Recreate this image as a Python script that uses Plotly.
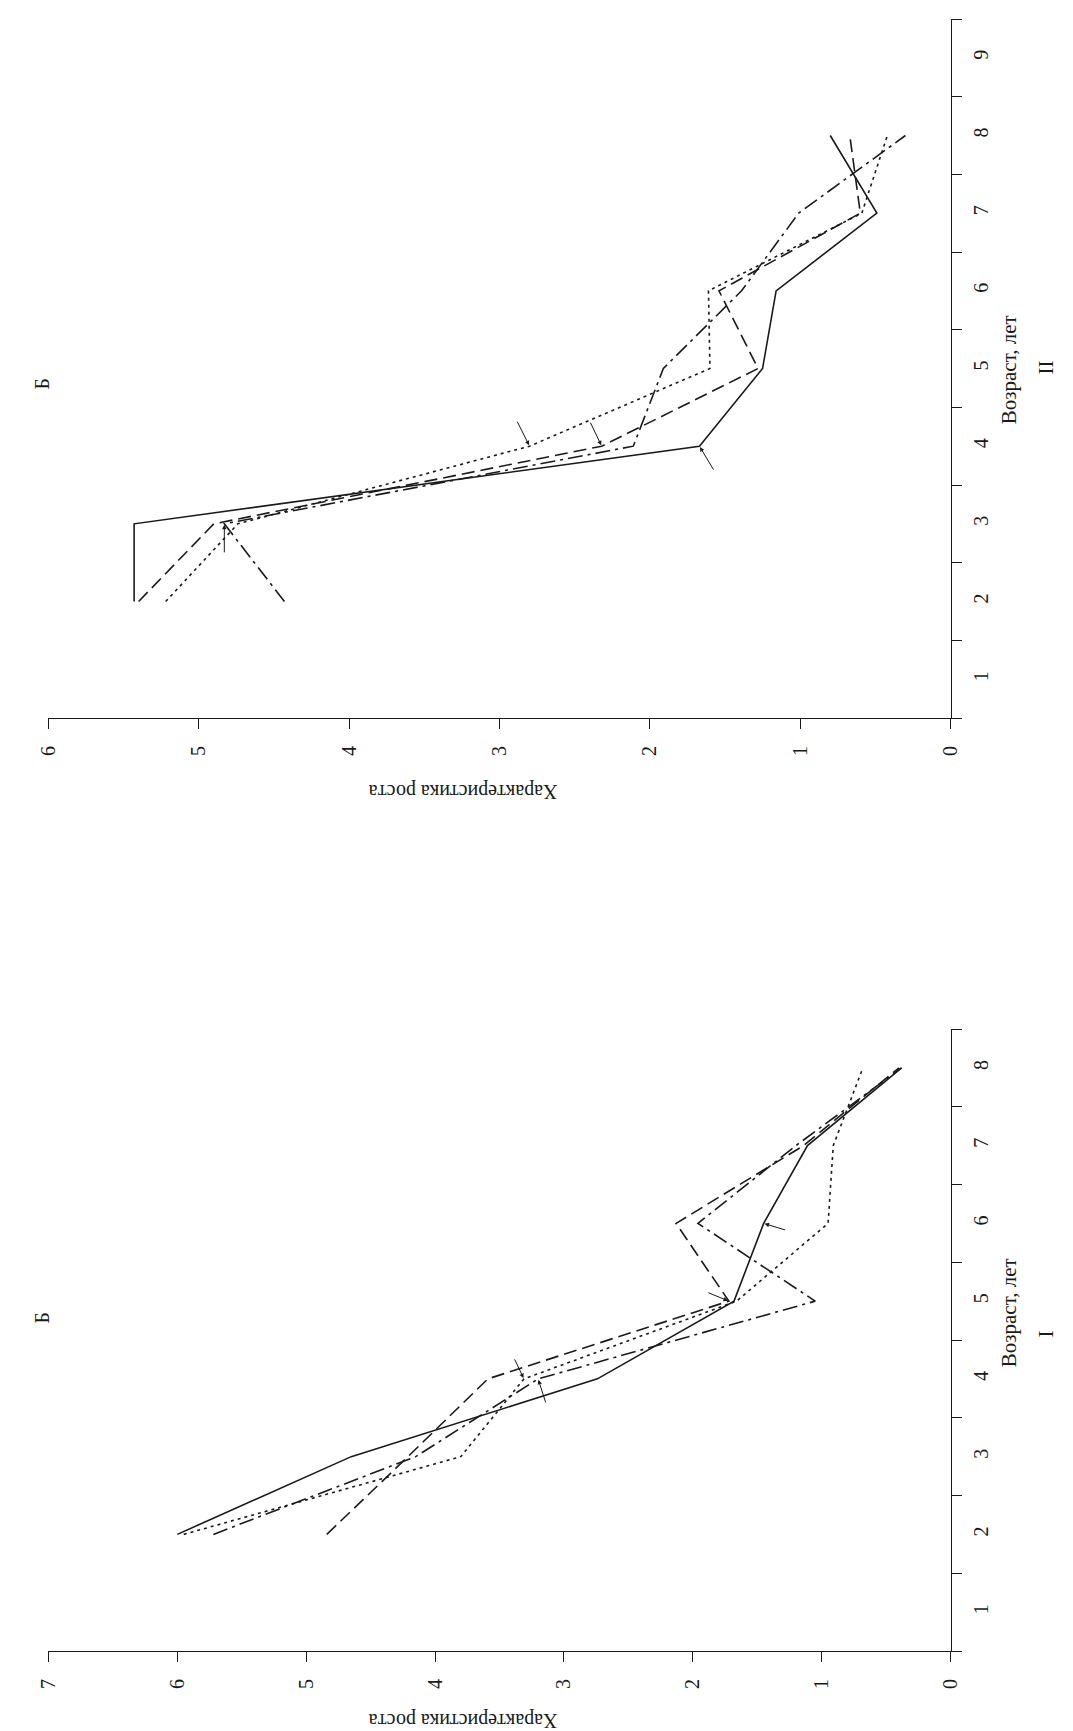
import plotly.graph_objects as go

W, H = 1073, 1731

# ---- data ----
ages = [2, 3, 4, 5, 6, 7, 8]

# Panel II (top)
II_solid   = [5.43, 5.43, 1.67, 1.25, 1.16, 0.49, 0.80]
II_dashed  = [5.40, 4.90, 2.32, 1.28, 1.54, 0.60, 0.67]
II_dotted  = [5.22, 4.74, 2.80, 1.60, 1.61, 0.59, 0.42]
II_dashdot = [4.43, 4.83, 2.11, 1.91, 1.39, 1.01, 0.30]

# Panel I (bottom)
I_solid   = [6.00, 4.65, 2.74, 1.68, 1.45, 1.11, 0.38]
I_dashed  = [4.84, 4.21, 3.59, 1.72, 2.13, 1.14, 0.40]
I_dotted  = [5.95, 3.80, 3.31, 1.66, 0.95, 0.91, 0.68]
I_dashdot = [5.72, 4.15, 3.20, 1.05, 1.96, 1.20, 0.38]

II_age_ticks = [1, 2, 3, 4, 5, 6, 7, 8, 9]
I_age_ticks = [1, 2, 3, 4, 5, 6, 7, 8]
II_val_ticks = [0, 1, 2, 3, 4, 5, 6]
I_val_ticks = [0, 1, 2, 3, 4, 5, 6, 7]

x_title = "Характеристика роста"
y_title = "Возраст, лет"
panel_letter = "Б"

FONT = "Liberation Serif"
INK = "#1a1a1a"

styles = {
    "solid": dict(dash="solid"),
    "dashed": dict(dash="13px,6px"),
    "dotted": dict(dash="3px,4px"),
    "dashdot": dict(dash="15px,5px,3px,5px"),
}

fig = go.Figure()

def add_panel(series, xa, ya):
    for name, vals in series:
        fig.add_trace(go.Scatter(
            x=vals, y=ages, mode="lines", xaxis=xa, yaxis=ya,
            line=dict(color=INK, width=1.6, **styles[name]),
            showlegend=False, hoverinfo="skip"))

add_panel([("solid", II_solid), ("dashed", II_dashed),
           ("dotted", II_dotted), ("dashdot", II_dashdot)], "x", "y")
add_panel([("solid", I_solid), ("dashed", I_dashed),
           ("dotted", I_dotted), ("dashdot", I_dashdot)], "x2", "y2")

xdom = [29 / W, 950 / W]
top_dom = [1 - 710 / H, 1 - 11 / H]
bot_dom = [1 - 1643 / H, 1 - 1021 / H]

def val_axis(rng, ticks, anchor, dom):
    return dict(domain=dom, anchor=anchor, range=rng, tickmode="array",
                tickvals=ticks, ticktext=[str(t) for t in ticks],
                ticks="outside", ticklen=10, tickwidth=1, tickcolor=INK,
                showline=True, linecolor=INK, linewidth=1.2,
                showgrid=False, zeroline=False, tickangle=-90,
                ticklabelstandoff=9,
                tickfont=dict(family=FONT, size=20, color=INK))

def age_axis(rng, ticks, anchor, dom):
    return dict(domain=dom, anchor=anchor, side="right", range=rng,
                tickmode="array", tickvals=ticks,
                ticktext=[str(t) for t in ticks], ticks="",
                showline=True, linecolor=INK, linewidth=1.2,
                showgrid=False, zeroline=False, tickangle=-90,
                ticklabelstandoff=12,
                minor=dict(tickmode="linear", tick0=0.5, dtick=1,
                           ticks="outside", ticklen=10, tickwidth=1,
                           tickcolor=INK, showgrid=False),
                tickfont=dict(family=FONT, size=20, color=INK))

fig.update_layout(
    width=W, height=H,
    margin=dict(l=0, r=0, t=0, b=0),
    paper_bgcolor="white", plot_bgcolor="white",
    xaxis=val_axis([6, 0], II_val_ticks, "y", xdom),
    yaxis=age_axis([0.5, 9.5], II_age_ticks, "x", top_dom),
    xaxis2=val_axis([7, 0], I_val_ticks, "y2", xdom),
    yaxis2=age_axis([0.5, 8.5], I_age_ticks, "x2", bot_dom),
)

def txt(text, px, py, angle, size=21):
    fig.add_annotation(text=text, x=px / W, y=1 - py / H, xref="paper",
                       yref="paper", showarrow=False, textangle=angle,
                       xanchor="center", yanchor="middle",
                       font=dict(family=FONT, size=size, color=INK))

# top panel texts
txt(panel_letter, 22, 376, -90, 20)
txt(y_title, 1010, 362, -90, 21)
txt("II", 1047, 360, -90, 21)
txt(x_title, 452, 783, 180, 20)
# bottom panel texts
txt(panel_letter, 22, 1310, -90, 20)
txt(y_title, 1010, 1305, -90, 21)
txt("I", 1047, 1326, -90, 21)
txt(x_title, 452, 1713, 180, 20)

def arrow(xv, yv, ax, ay, xr, yr):
    fig.add_annotation(x=xv, y=yv, xref=xr, yref=yr, text="", showarrow=True,
                       ax=ax, ay=ay, arrowhead=2, arrowsize=0.9,
                       arrowwidth=1, arrowcolor=INK, standoff=1)

# top panel arrows (age index: 4 -> idx 2, 3 -> idx 1)
arrow(II_dotted[2], ages[2], -13, -26, "x", "y")
arrow(II_dashed[2], ages[2], -12, -25, "x", "y")
arrow(II_solid[2], ages[2], 15, 25, "x", "y")
arrow(II_dashdot[1], ages[1], 0, 30, "x", "y")
# bottom panel arrows
arrow(I_dotted[2], ages[2], -10, -21, "x2", "y2")
arrow(I_dashdot[2], ages[2], 8, 25, "x2", "y2")
arrow(I_dashed[3], ages[3], -22, -9, "x2", "y2")
arrow(I_solid[4], ages[4], 23, 7, "x2", "y2")

fig.write_html("out.html")
